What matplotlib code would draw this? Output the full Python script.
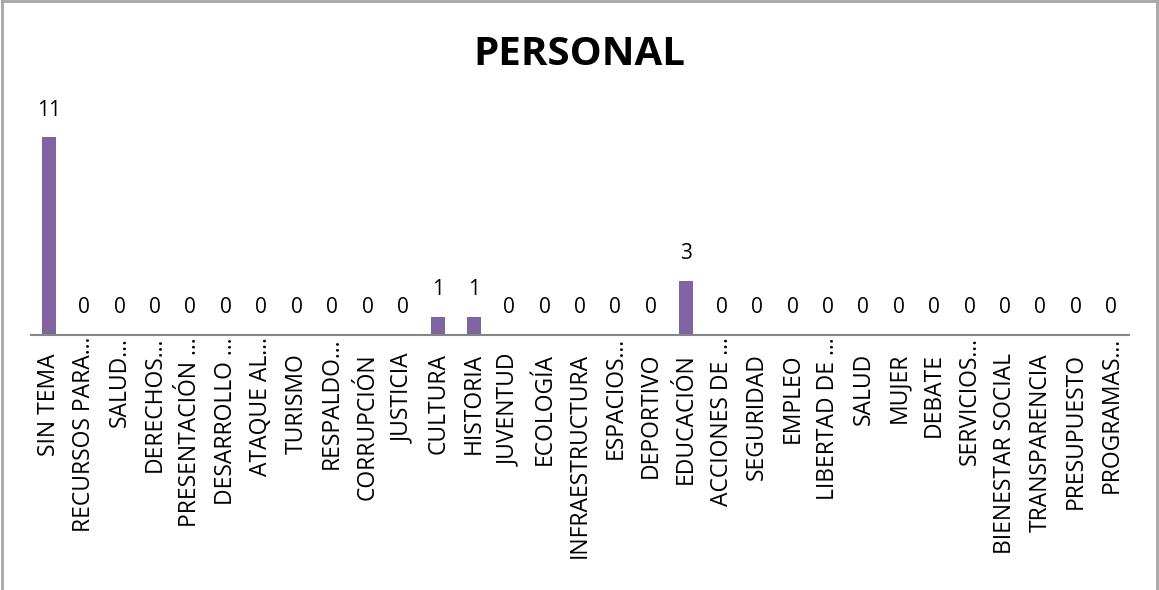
import matplotlib
matplotlib.use('Agg')
import matplotlib.pyplot as plt
from matplotlib.lines import Line2D
import matplotlib.transforms as mtransforms

matplotlib.rcParams['font.family'] = ['Open Sans', 'DejaVu Sans']

temas = ['SIN TEMA', 'RECURSOS PARA…', 'SALUD…', 'DERECHOS…', 'PRESENTACIÓN …',
         'DESARROLLO …', 'ATAQUE AL…', 'TURISMO', 'RESPALDO…', 'CORRUPCIÓN',
         'JUSTICIA', 'CULTURA', 'HISTORIA', 'JUVENTUD', 'ECOLOGÍA',
         'INFRAESTRUCTURA', 'ESPACIOS…', 'DEPORTIVO', 'EDUCACIÓN', 'ACCIONES DE …',
         'SEGURIDAD', 'EMPLEO', 'LIBERTAD DE …', 'SALUD', 'MUJER',
         'DEBATE', 'SERVICIOS…', 'BIENESTAR SOCIAL', 'TRANSPARENCIA', 'PRESUPUESTO',
         'PROGRAMAS…']
valores = [11, 0, 0, 0, 0, 0, 0, 0, 0, 0,
           0, 1, 1, 0, 0, 0, 0, 0, 3, 0,
           0, 0, 0, 0, 0, 0, 0, 0, 0, 0,
           0]

fig = plt.figure(figsize=(11.59, 5.90), dpi=100)
ax = fig.add_axes([0.0267, 0.432, 0.9474, 0.366])

x = range(len(temas))
ax.bar(x, valores, width=0.4, color='#8064A2')
ax.set_xlim(-0.5, len(temas) - 0.5)
ax.set_ylim(0, 12)

for xi, v in zip(x, valores):
    ax.annotate(str(v), (xi, v), xytext=(0, 12), textcoords='offset points',
                ha='center', va='bottom', fontsize=15)

# solo la linea base gris
for lado in ['left', 'right', 'top']:
    ax.spines[lado].set_visible(False)
ax.spines['bottom'].set_color('#868686')
ax.spines['bottom'].set_linewidth(1.5)
ax.set_yticks([])
ax.set_xticks([])

# etiquetas verticales; las recortadas con … quedan pegadas al eje
trans = mtransforms.blended_transform_factory(ax.transData, ax.transAxes)
for xi, t in zip(x, temas):
    dy = -2 if t.endswith('…') else -18
    off = mtransforms.offset_copy(trans, fig=fig, y=dy, units='dots')
    ax.text(xi, 0, t, rotation=90, ha='center', va='top', fontsize=16.5,
            transform=off)

fig.text(0.5, 0.907, 'PERSONAL', ha='center', va='center', fontsize=29,
         fontweight='bold')

# borde del area del grafico
borde = dict(color='#A6A6A6', linewidth=2, transform=fig.transFigure)
fig.add_artist(Line2D([0.0015, 0.0015], [0, 0.998], **borde))
fig.add_artist(Line2D([0.0015, 0.9985], [0.998, 0.998], **borde))
fig.add_artist(Line2D([0.9985, 0.9985], [0, 0.998], **borde))

fig.savefig('out.png', dpi=100)
